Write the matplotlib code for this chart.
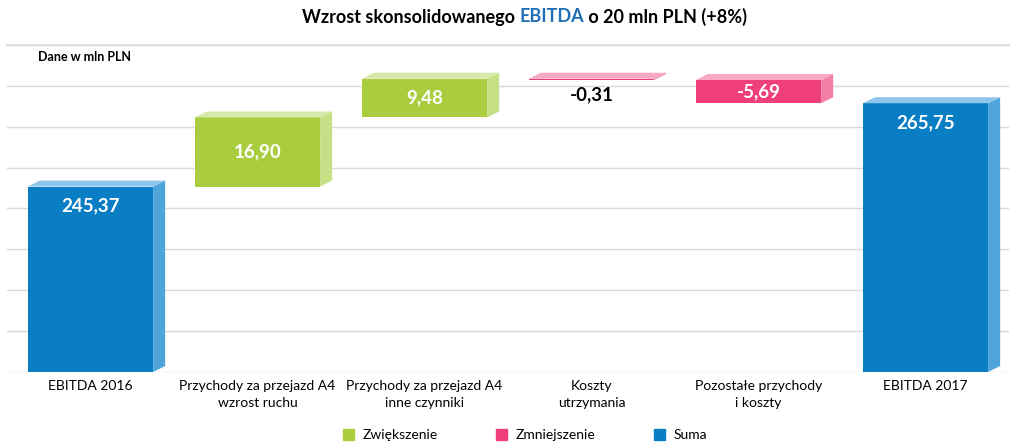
import matplotlib
matplotlib.use('Agg')
from matplotlib import pyplot as plt
from matplotlib.patches import Polygon, Patch
import numpy as np

plt.rcParams['font.family'] = ['Lato', 'DejaVu Sans']

# dane (mln PLN)
categories = ['EBITDA 2016', 'Przychody za przejazd A4\nwzrost ruchu',
              'Przychody za przejazd A4\ninne czynniki', 'Koszty\nutrzymania',
              'Pozostałe przychody\ni koszty', 'EBITDA 2017']
values = [245.37, 16.90, 9.48, -0.31, -5.69, 265.75]
kinds = ['sum', 'up', 'up', 'down', 'down', 'sum']
value_labels = ['245,37', '16,90', '9,48', '-0,31', '-5,69', '265,75']
legend_names = ['Zwiększenie', 'Zmniejszenie', 'Suma']

# front, side, top
colors = {'up': ('#A9CD3F', '#C7DF85', '#D6E9A8'),
          'down': ('#EF3F7B', '#F37EA7', '#F7A9C4'),
          'sum': ('#0A7EC4', '#4FA5DA', '#8EC5EA')}

floor = 200
width = 0.75
dx = 0.072   # glebokosc 3d w osi x
dy = 1.47    # glebokosc 3d w osi y

fig = plt.figure(figsize=(10.24, 4.44), dpi=100)
ax = fig.add_axes([7 / 1024, 72 / 444, 1002 / 1024, 327 / 444])
ax.set_xlim(-0.5, 5.5)
ax.set_ylim(200, 280)

x = np.arange(len(categories))
running = 0
for i, (v, k) in enumerate(zip(values, kinds)):
    if k == 'sum':
        bot, top = floor, v
        running = v
    else:
        lo, hi = sorted([running, running + v])
        bot, top = lo, hi
        running = running + v
    front, side, topc = colors[k]
    x0, x1 = x[i] - width / 2, x[i] + width / 2
    ax.bar(x[i], top - bot, bottom=bot, width=width, color=front, zorder=3, linewidth=0)
    ax.add_patch(Polygon([(x1, bot), (x1 + dx, bot + dy), (x1 + dx, top + dy), (x1, top)],
                         closed=True, color=side, zorder=3, linewidth=0))
    ax.add_patch(Polygon([(x0, top), (x1, top), (x1 + dx, top + dy), (x0 + dx, top + dy)],
                         closed=True, color=topc, zorder=3, linewidth=0))
    if k == 'sum':
        ax.text(x[i], top - 4.8, value_labels[i], ha='center', va='center',
                color='white', fontsize=13.5, fontweight='bold', zorder=4)
    elif top - bot < 2:
        ax.text(x[i], bot - 3.6, value_labels[i], ha='center', va='center',
                color='black', fontsize=13.5, fontweight='bold', zorder=4)
    else:
        ax.text(x[i], (top + bot) / 2, value_labels[i], ha='center', va='center',
                color='white', fontsize=13.5, fontweight='bold', zorder=4)

ax.set_yticks(np.arange(200, 281, 10))
ax.yaxis.grid(True, color='#D9D9D9', linewidth=1, zorder=0)
ax.tick_params(axis='y', left=False, labelleft=False)
ax.set_xticks(x)
ax.set_xticklabels(categories, fontsize=10, linespacing=1.45)
ax.tick_params(axis='x', length=0, pad=6)
for s in ['left', 'right', 'bottom']:
    ax.spines[s].set_visible(False)
ax.spines['top'].set_color('#D9D9D9')
ax.spines['top'].set_linewidth(1.2)

fig.text(38 / 1024, 1 - 57 / 444, 'Dane w mln PLN',
         fontsize=9, fontweight='bold', va='center', ha='left')

# tytul w trzech kawalkach
parts = [('Wzrost skonsolidowanego ', 'black'), ('EBITDA', '#1F6FB7'), (' o 20 mln PLN (+8%)', 'black')]
fig.canvas.draw()
r = fig.canvas.get_renderer()
txts = []
for s, c in parts:
    t = fig.text(0, 1 - 17 / 444, s, color=c, fontsize=13, fontweight='bold',
                 ha='left', va='center')
    txts.append(t)
widths = [t.get_window_extent(renderer=r).width for t in txts]
total = sum(widths)
xpos = 525 - total / 2
for t, w in zip(txts, widths):
    t.set_x(xpos / 1024)
    xpos += w

handles = [Patch(color=colors['up'][0]), Patch(color=colors['down'][0]), Patch(color=colors['sum'][0])]
fig.legend(handles, legend_names, loc='center', bbox_to_anchor=(525 / 1024, 1 - 435 / 444),
           ncol=3, frameon=False, fontsize=10, handlelength=0.8, handleheight=0.8,
           columnspacing=4.2, handletextpad=0.6)

fig.savefig('out.png', dpi=100)
